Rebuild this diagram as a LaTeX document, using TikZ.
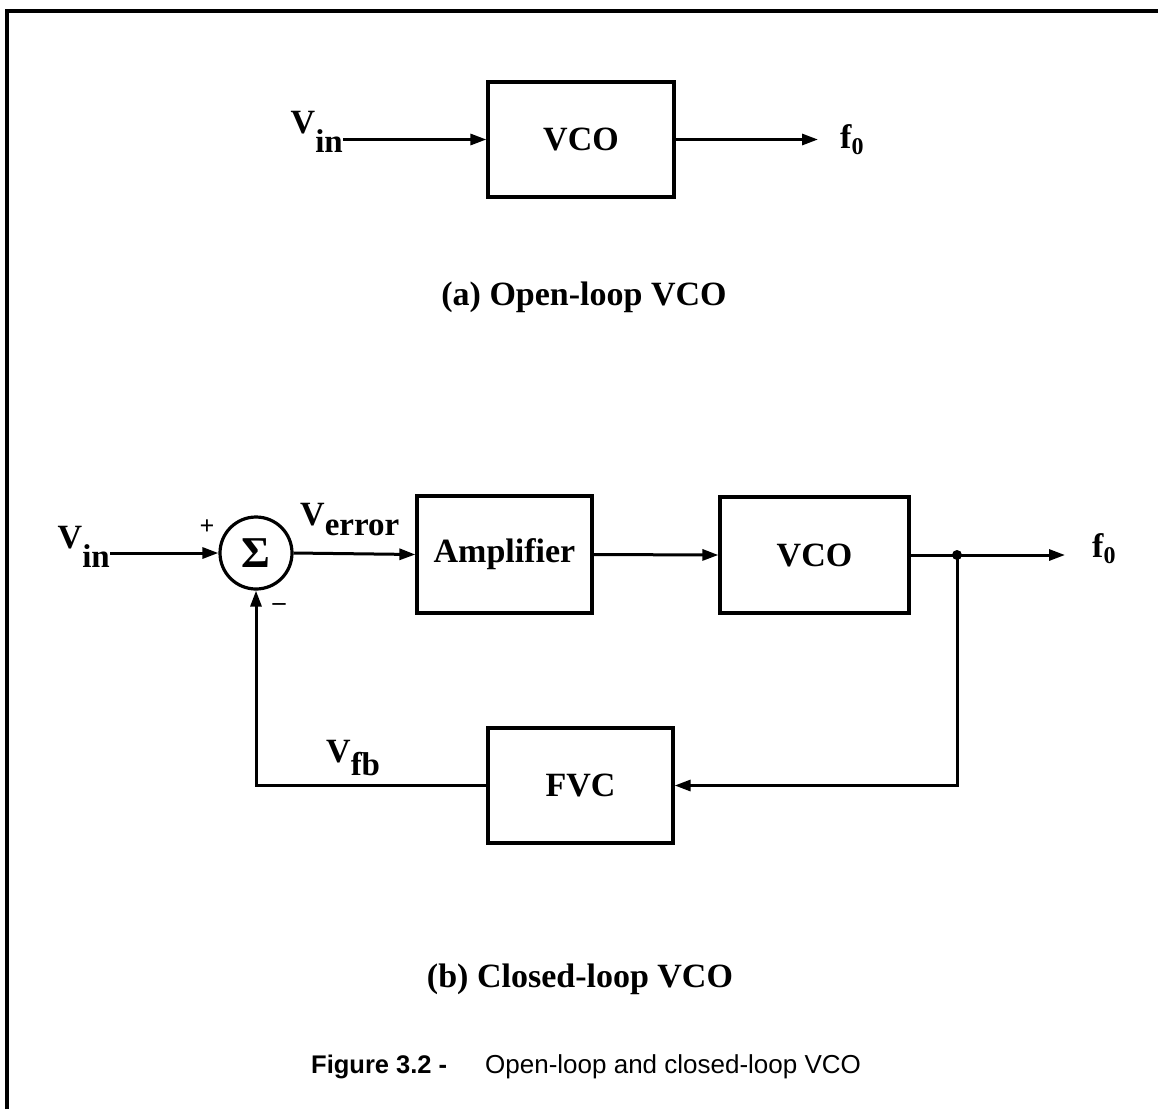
\documentclass[tikz,border=0pt]{standalone}
\usepackage{fontspec}
\setmainfont{Liberation Serif}
\setsansfont{Liberation Sans}
\usetikzlibrary{arrows.meta}
\newcommand\mysub[3]{\raisebox{-#1}{\fontsize{#2}{#2}\selectfont #3}}
\begin{document}
\begin{tikzpicture}[x=1pt,y=-1pt,
  blk/.style={draw, line width=3.2pt, rectangle, inner sep=0pt, font=\fontsize{34}{40}\selectfont\bfseries},
  sig/.style={line width=3pt, -{Triangle[length=16pt,width=11pt]}},
  lbl/.style={inner sep=0pt, font=\fontsize{34}{40}\selectfont\bfseries},
  sml/.style={inner sep=0pt, font=\fontsize{26}{30}\selectfont\bfseries},
  figcap/.style={inner sep=0pt, font=\sffamily\fontsize{26}{30}\selectfont},
]
\useasboundingbox (0,0) rectangle (1158,1109);
\draw[line width=3.5pt] (7,1109) -- (7,11) -- (1158,11);
% (a)
\node[blk, minimum width=186pt, minimum height=115pt] (vcoa) at (581,139.5) {VCO};
\node[lbl, anchor=base east] (vina) at (343,133) {V\mysub{19pt}{33}{in}};
\draw[sig] (vina.east |- vcoa.west) -- (vcoa.west);
\node[lbl, anchor=base west] (f0a) at (840,148) {f\mysub{6pt}{24}{0}};
\coordinate (outa) at (818,139.5);
\draw[sig] (vcoa.east) -- (outa);
\node[lbl, anchor=base] (capa) at (584,305) {(a) Open-loop VCO};
% (b)
\node[draw, circle, line width=3.2pt, minimum size=72pt, inner sep=0pt, font=\fontsize{44}{48}\selectfont\bfseries] (sum) at (256,553) {Σ};
\node[lbl, anchor=base east] (vinb) at (110,548) {V\mysub{19pt}{33}{in}};
\draw[sig] (vinb.east |- sum.west) -- (sum.west);
\node[sml] (plus) at (207,527) {+};
\node[sml] (minus) at (279,607) {–};
\node[blk, minimum width=175pt, minimum height=117pt] (amp) at (504.5,554.5) {Amplifier};
\node[blk, minimum width=189pt, minimum height=116pt] (vcob) at (814.5,555) {VCO};
\node[blk, minimum width=185pt, minimum height=115pt] (fvc) at (580.5,785.5) {FVC};
\draw[sig] (sum.east) -- (amp.west);
\node[lbl, anchor=base west] (verr) at (300,525) {V\mysub{10pt}{33}{error}};
\draw[sig] (amp.east) -- (vcob.west);
\node[circle, fill, inner sep=0pt, minimum size=10pt] (dot) at (957,555) {};
\coordinate (outb) at (1065,555);
\draw[sig] (vcob.east) -- (outb);
\node[lbl, anchor=base west] (f0b) at (1092,557) {f\mysub{6pt}{24}{0}};
\draw[sig] (dot.center) |- (fvc.east);
\draw[sig] (fvc.west) -| (sum.south);
\node[lbl, anchor=base west] (vfb) at (326,762) {V\mysub{13pt}{33}{fb}};
\node[lbl, anchor=base] (capb) at (580,987) {(b) Closed-loop VCO};
% figure caption
\node[figcap, font=\sffamily\bfseries\fontsize{25.5}{30}\selectfont, anchor=base west] (figl) at (311,1073) {Figure 3.2 -};
\node[figcap, anchor=base west] (figt) at (485,1073) {Open-loop and closed-loop VCO};
\end{tikzpicture}
\end{document}
